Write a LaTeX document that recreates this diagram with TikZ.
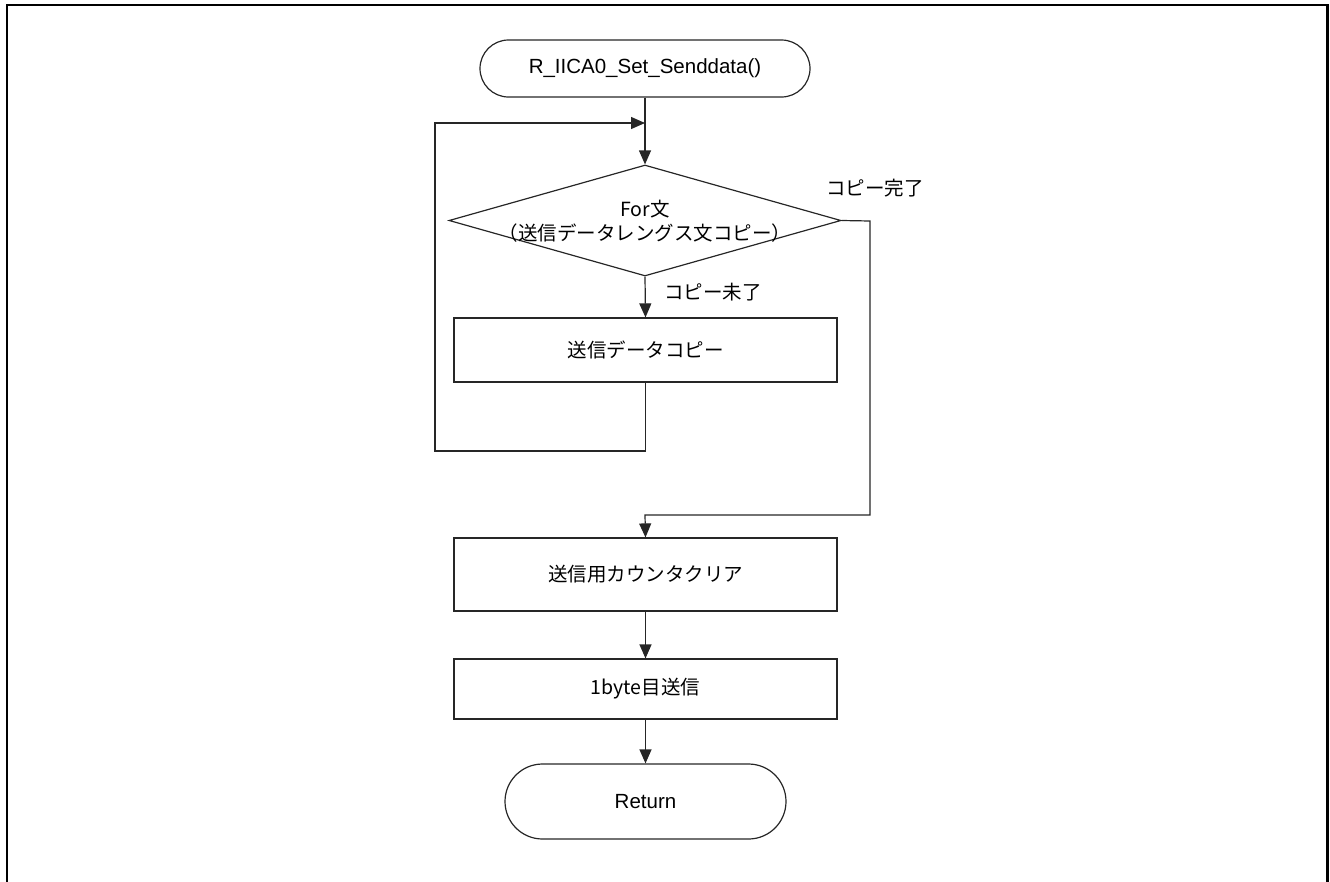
\documentclass[tikz,border=0pt]{standalone}
\usepackage{fontspec}
\setmainfont{Liberation Sans}
\newfontfamily\jp{Noto Sans CJK JP}
\usetikzlibrary{arrows.meta,shapes.geometric}

\tikzset{
  line/.style={line width=1.2pt, draw=black!85},
  flow/.style={line, -{Triangle[length=14pt,width=12pt]}},
  terminal/.style={line, rectangle, rounded corners=#1, inner sep=0pt, font=\fontsize{20.5}{24}\selectfont},
  procbox/.style={line, rectangle, minimum width=383pt, inner sep=0pt, font=\jp\fontsize{19.5}{23}\selectfont},
  decision/.style={line, diamond, minimum width=392pt, minimum height=111pt, inner sep=0pt},
  lbl/.style={font=\jp\fontsize{19.5}{23}\selectfont, inner sep=0pt},
}

\begin{document}
\begin{tikzpicture}[x=1pt,y=-1pt]
  \useasboundingbox (0,0) rectangle (1330,881);

  % open frame (no bottom edge)
  \draw[line width=2.2pt] (7,885) -- (7,5) -- (1327.5,5) -- (1327.5,885);

  % nodes
  \node[terminal=28.5pt, minimum width=330pt, minimum height=57pt] (start) at (645,68.5) {R\_IICA0\_Set\_Senddata()};
  \coordinate (join) at (645,123);
  \node[decision] (loop) at (645,220.5) {};
  \node[lbl, align=center] (looptxt) at (645,221) {For{\jp 文}\\[1pt]（送信データレングス文コピー）};
  \node[procbox, minimum height=64pt] (copy) at (645.5,350) {送信データコピー};
  \node[procbox, minimum height=73pt] (clear) at (645.5,574.5) {送信用カウンタクリア};
  \node[procbox, minimum height=60pt] (send) at (645.5,689) {1byte目送信};
  \node[terminal=37.5pt, minimum width=281pt, minimum height=75pt] (ret) at (645.5,801.5) {Return};

  % branch labels
  \node[lbl, anchor=west] (notdone) at (664,292) {コピー未了};
  \node[lbl, anchor=west] (done) at (826,188) {コピー完了};

  % helper corners
  \coordinate (lb) at (435,451);
  \coordinate (lt) at (435,123);
  \coordinate (rt) at (870,221);
  \coordinate (rb) at (870,515);
  \coordinate (mb) at (645,515);

  % connectors
  \draw[flow] (start.south) -- (loop.north);
  \draw[flow] (loop.south) -- (copy.north);
  \draw[flow] (copy.south) |- (lb) -- (lt) -- (join);
  \draw[flow] (loop.east) -- (rt) -- (rb) -- (mb) -- (clear.north);
  \draw[flow] (clear.south) -- (send.north);
  \draw[flow] (send.south) -- (ret.north);
\end{tikzpicture}
\end{document}
